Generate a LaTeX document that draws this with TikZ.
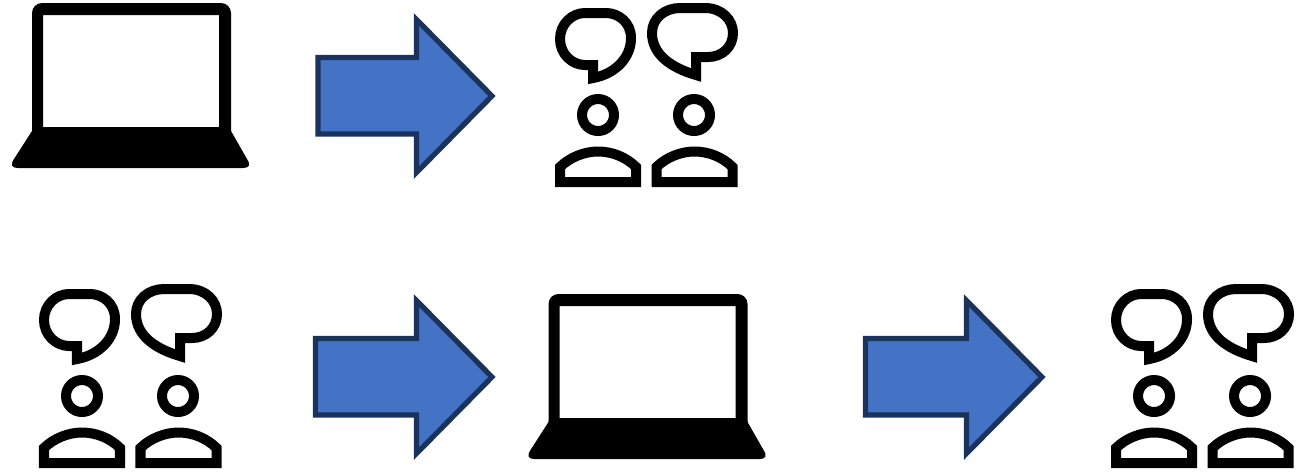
\documentclass[tikz,border=0pt]{standalone}
\usepackage{xcolor}
\usepackage{tikz}
\definecolor{arrowFill}{HTML}{4472C4}
\definecolor{arrowEdge}{HTML}{1A335C}

\begin{document}
\begin{tikzpicture}[
  x=0.01cm, y=-0.01cm,
  icon/.style={draw=black, line width=0.1cm, miter limit=10, fill=none},
  shot/.style={draw=arrowEdge, line width=0.052cm, fill=arrowFill, miter limit=10},
  laptop/.pic={
    \fill[black, even odd rule, rounded corners=0.1cm] (32,145) -- (32,3) -- (231,3) -- (231,145) -- cycle
      [sharp corners] (43,15) rectangle (219,127);
    \fill[black] (33,127) -- (32,131) -- (14,159) .. controls (10,165) and (12,168) .. (18,168)
      -- (243,168) .. controls (249,168) and (251,165) .. (247,159) -- (231,131) -- (230,127) -- cycle;
  },
  people/.pic={
    % speech bubbles
    \path[icon] (593,78) .. controls (615,74) and (631,58) .. (631,38)
      .. controls (631,22) and (618,13) .. (606,13) -- (585,13)
      .. controls (572,13) and (560,24) .. (560,39)
      .. controls (560,54) and (572,65) .. (585,65) -- (593,65) -- cycle;
    \path[icon] (696,75) .. controls (672,68) and (652,55) .. (652,33)
      .. controls (652,18) and (665,8) .. (680,8) -- (705,8)
      .. controls (722,8) and (733,20) .. (733,33)
      .. controls (733,47) and (722,57) .. (708,57) -- (696,57) -- cycle;
    % heads and bodies
    \path[icon] (598,115) circle[radius=16];
    \path[icon] (694,115) circle[radius=16];
    \foreach \dx in {0,96.5}
      \path[icon, xshift=\dx*0.01cm] (560,182) -- (560,167)
        .. controls (570,157) and (585,151.5) .. (598,151.5)
        .. controls (612,151.5) and (626,157) .. (636,167) -- (636,182) -- cycle;
  },
  pics/bigArrow/.style={code={
    \path[shot] (#1,57.5) -- (416.5,57.5) -- (416.5,19.5) -- (492,96) -- (416.5,172.5)
      -- (416.5,134) -- (#1,134) -- cycle;
  }},
]
\useasboundingbox (0,0) rectangle (1307,472);

% top row
\pic at (0,0) {laptop};
\pic at (0,0) {bigArrow=318};
\pic at (0,0) {people};

% bottom row
\pic at (-516,281) {people};
\pic at (0,281) {bigArrow=315.5};
\pic at (516.5,291) {laptop};
\pic at (550,281) {bigArrow=315.5};
\pic at (556,281) {people};
\end{tikzpicture}
\end{document}
